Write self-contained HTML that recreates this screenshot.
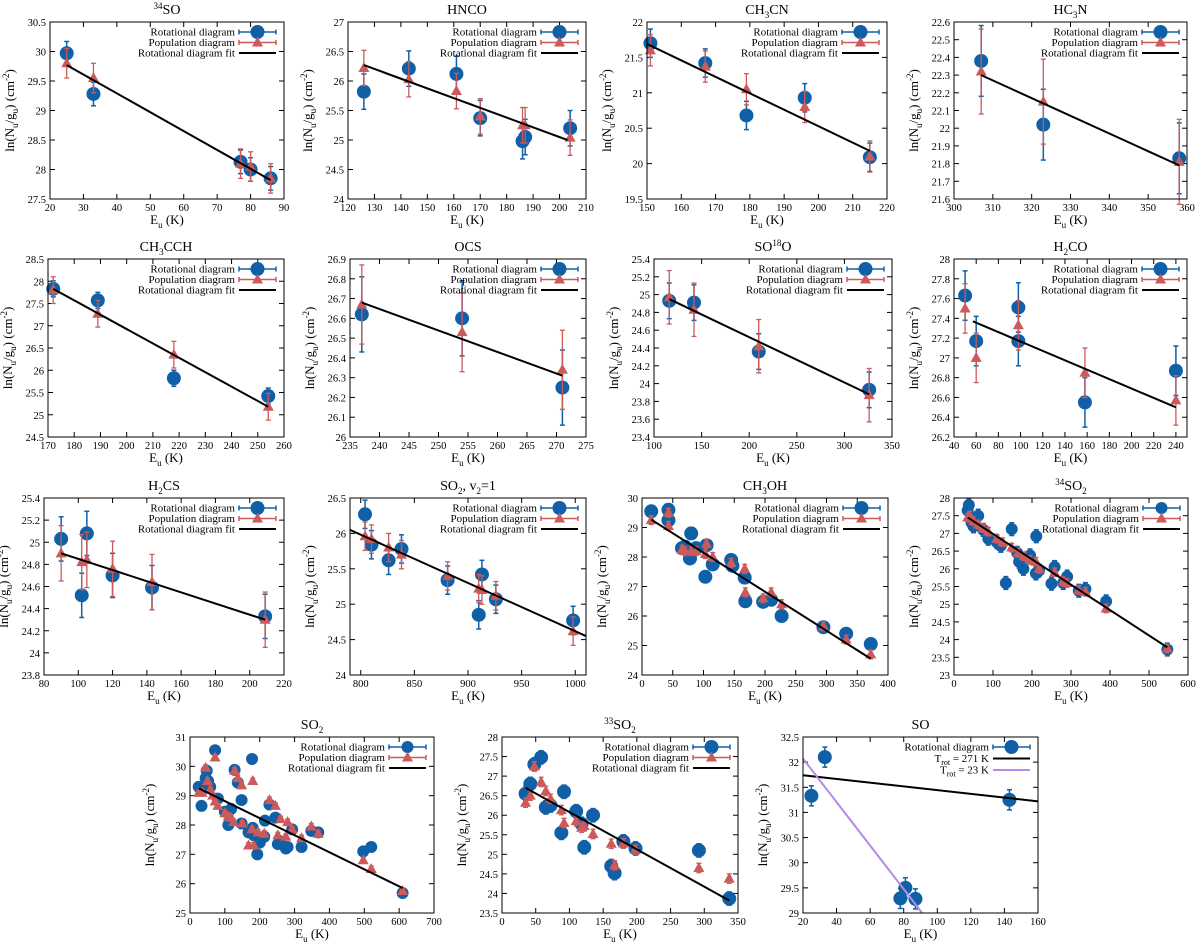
<!DOCTYPE html>
<html><head><meta charset="utf-8">
<style>
body{margin:0;background:#fff;}
svg{display:block;}
svg text{font-family:"Liberation Serif","DejaVu Serif",serif;}
</style></head>
<body>
<svg id="fig" width="1200" height="943" viewBox="0 0 1200 943" xmlns="http://www.w3.org/2000/svg" font-family="Liberation Serif, serif"></svg>
<script>
// ---------- DATA ----------
const p1_rotX=[25,33,77,80,86], p1_rotY=[29.97,29.28,28.13,28.0,27.85];
const p1_popX=[25,33,77,80,86], p1_popY=[29.8,29.55,28.1,28.05,27.85];
const p1_fitX=[25,86], p1_fitY=[29.77,27.82];

const p2_rotX=[126,143,161,170,186,187,204], p2_rotY=[25.82,26.21,26.12,25.37,24.98,25.05,25.2];
const p2_popX=[126,143,161,170,186,187,204], p2_popY=[26.22,26.03,25.83,25.4,25.25,25.25,25.04];
const p2_fitX=[126,203], p2_fitY=[26.27,25.0];

const p3_rotX=[151,167,179,196,215], p3_rotY=[21.7,21.42,20.68,20.93,20.09];
const p3_popX=[151,167,179,196,215], p3_popY=[21.6,21.37,21.05,20.8,20.1];
const p3_fitX=[150,215], p3_fitY=[21.69,20.18];

const p4_rotX=[307,323,358], p4_rotY=[22.38,22.02,21.83];
const p4_popX=[307,323,358], p4_popY=[22.32,22.15,21.81];
const p4_fitX=[307,358], p4_fitY=[22.3,21.79];

const p5_rotX=[172,189,218,254], p5_rotY=[27.83,27.57,25.82,25.42];
const p5_popX=[172,189,218,254], p5_popY=[27.8,27.27,26.35,25.18];
const p5_fitX=[172,254], p5_fitY=[27.83,25.18];

const p6_rotX=[237,254,271], p6_rotY=[26.62,26.6,26.25];
const p6_popX=[237,254,271], p6_popY=[26.67,26.53,26.34];
const p6_fitX=[237,271], p6_fitY=[26.68,26.31];

const p7_rotX=[116,142,210,326], p7_rotY=[24.93,24.91,24.36,23.93];
const p7_popX=[116,142,210,326], p7_popY=[24.97,24.83,24.42,23.87];
const p7_fitX=[116,326], p7_fitY=[24.95,23.88];

const p8_rotX=[50,60,98,98,158,240], p8_rotY=[27.63,27.17,27.51,27.17,26.55,26.87];
const p8_popX=[50,60,98,158,240], p8_popY=[27.5,27.0,27.33,26.85,26.57];
const p8_fitX=[57,240], p8_fitY=[27.37,26.5];

const p9_rotX=[90,102,105,120,143,209], p9_rotY=[25.03,24.52,25.08,24.7,24.59,24.33];
const p9_popX=[90,102,105,120,143,209], p9_popY=[24.9,24.82,24.84,24.76,24.64,24.3];
const p9_fitX=[90,209], p9_fitY=[24.9,24.3];

const p10_rotX=[804,810,826,838,881,910,913,926,998], p10_rotY=[26.27,25.84,25.62,25.78,25.34,24.85,25.42,25.07,24.77];
const p10_popX=[804,810,826,838,881,910,913,926,998], p10_popY=[25.96,25.92,25.8,25.7,25.4,25.22,25.2,25.12,24.62];
const p10_fitX=[790,1010], p10_fitY=[26.05,24.55];

const p11_rotX=[15,43,43,65,70,78,80,88,103,105,115,145,147,167,168,197,210,227,295,332,372];
const p11_rotY=[29.55,29.6,29.25,28.3,28.35,27.95,28.8,28.3,27.33,28.4,27.75,27.9,27.7,27.3,26.5,26.48,26.55,26.0,25.62,25.4,25.05];
const p11_popX=[15,43,43,65,70,80,88,103,105,115,145,167,168,197,210,227,295,332,372];
const p11_popY=[29.25,29.5,29.05,28.25,28.2,28.2,28.2,28.1,28.45,28.0,27.8,27.6,26.8,26.6,26.8,26.4,25.65,25.2,24.7];
const p11_fitX=[15,372], p11_fitY=[29.27,24.55];

const p12_rotX=[35,38,45,50,62,75,88,110,120,133,148,162,167,178,195,210,211,218,250,258,280,290,320,337,390,547];
const p12_rotY=[27.65,27.8,27.3,27.2,27.5,27.1,26.85,26.75,26.65,25.6,27.12,26.45,26.2,26.0,26.38,25.87,26.92,25.95,25.58,26.05,25.6,25.78,25.38,25.43,25.08,23.72];
const p12_popX=[35,40,50,62,75,88,110,125,148,165,180,195,210,218,258,280,290,320,337,390,547];
const p12_popY=[27.45,27.5,27.35,27.25,27.15,27.05,26.85,26.75,26.6,26.45,26.35,26.25,26.2,26.0,25.9,25.65,25.6,25.4,25.35,24.88,23.75];
const p12_fitX=[35,547], p12_fitY=[27.45,23.78];

const p13_rotX=[25,33,45,48,52,58,72,80,100,110,118,128,137,148,148,168,178,180,183,193,200,213,215,228,245,252,258,275,280,293,320,348,368,497,520,610];
const p13_rotY=[29.3,28.65,29.6,29.85,29.5,29.3,30.55,28.9,28.45,28.0,28.55,29.88,29.45,28.85,28.05,27.75,30.25,27.9,27.65,27.0,27.4,27.6,28.15,28.7,28.25,27.35,27.45,27.2,27.25,27.85,27.25,27.8,27.75,27.1,27.25,25.68];
const p13_popX=[25,35,45,50,58,65,72,72,80,100,110,118,125,128,137,148,150,168,178,180,183,195,213,228,245,252,260,275,280,293,320,348,368,497,520,610];
const p13_popY=[29.1,29.1,29.95,29.5,29.2,29.0,30.3,28.8,28.65,28.4,28.3,28.25,28.1,29.85,29.6,29.35,28.05,27.3,27.85,29.5,27.3,27.75,27.7,28.85,28.65,27.65,28.2,27.6,28.1,27.85,27.55,27.95,27.7,26.8,26.5,25.75];
const p13_fitX=[25,610], p13_fitY=[29.25,25.85];

const p14_rotX=[35,42,48,58,65,72,88,92,110,118,122,135,162,167,180,198,292,337];
const p14_rotY=[26.55,26.8,27.3,27.48,26.2,26.25,25.55,26.6,26.1,25.78,25.18,26.0,24.7,24.52,25.33,25.15,25.1,23.87];
const p14_popX=[35,42,48,58,65,72,88,92,110,118,122,135,162,167,180,198,292,337];
const p14_popY=[26.32,26.5,27.25,26.85,26.62,26.42,26.13,25.8,25.85,25.68,25.72,25.52,25.27,24.72,25.28,25.12,24.65,24.38];
const p14_fitX=[35,337], p14_fitY=[26.7,23.82];

const p15_rotX=[25,33,78,81,87,143], p15_rotY=[31.33,32.1,29.29,29.5,29.28,31.25];
const p15_fitX=[20,160], p15_fitY=[31.74,31.22];
const p15_fit2X=[20,91], p15_fit2Y=[32.07,29.0];

// ---------- RENDER ----------
const NS="http://www.w3.org/2000/svg";
const svg=document.getElementById('fig');
const BLUE="#1060a8", RED="#cc5a5a", PURPLE="#b58ae8";
function mk(tag,attrs,parent){const e=document.createElementNS(NS,tag);for(const k in attrs)e.setAttribute(k,attrs[k]);(parent||svg).appendChild(e);return e;}

const panels=[
 {id:'34so',title:'<tspan font-size="9" dy="-5">34</tspan><tspan dy="5">SO</tspan>',L:50,R:284,T:22,B:199,x0:20,x1:90,xs:10,y0:27.5,y1:30.5,ys:0.5,rx:p1_rotX,ry:p1_rotY,px:p1_popX,py:p1_popY,fx:p1_fitX,fy:p1_fitY,eR:0.2,eP:0.25,r:7},
 {id:'hnco',title:'HNCO',L:348,R:586,T:22,B:199,x0:120,x1:210,xs:10,y0:24,y1:27,ys:0.5,rx:p2_rotX,ry:p2_rotY,px:p2_popX,py:p2_popY,fx:p2_fitX,fy:p2_fitY,eR:0.3,eP:0.3,r:7},
 {id:'ch3cn',title:'CH<tspan font-size="9" dy="4">3</tspan><tspan dy="-4">CN</tspan>',L:647,R:887,T:22,B:199,x0:150,x1:220,xs:10,y0:19.5,y1:22,ys:0.5,rx:p3_rotX,ry:p3_rotY,px:p3_popX,py:p3_popY,fx:p3_fitX,fy:p3_fitY,eR:0.2,eP:0.22,r:7},
 {id:'hc3n',title:'HC<tspan font-size="9" dy="4">3</tspan><tspan dy="-4">N</tspan>',L:954,R:1187,T:22,B:199,x0:300,x1:360,xs:10,y0:21.6,y1:22.6,ys:0.1,rx:p4_rotX,ry:p4_rotY,px:p4_popX,py:p4_popY,fx:p4_fitX,fy:p4_fitY,eR:0.2,eP:0.24,r:7},
 {id:'ch3cch',title:'CH<tspan font-size="9" dy="4">3</tspan><tspan dy="-4">CCH</tspan>',L:48,R:284,T:259,B:437,x0:170,x1:260,xs:10,y0:24.5,y1:28.5,ys:0.5,rx:p5_rotX,ry:p5_rotY,px:p5_popX,py:p5_popY,fx:p5_fitX,fy:p5_fitY,eR:0.18,eP:0.3,r:7},
 {id:'ocs',title:'OCS',L:350,R:586,T:259,B:437,x0:235,x1:275,xs:5,y0:26,y1:26.9,ys:0.1,rx:p6_rotX,ry:p6_rotY,px:p6_popX,py:p6_popY,fx:p6_fitX,fy:p6_fitY,eR:0.19,eP:0.2,r:7},
 {id:'so18o',title:'SO<tspan font-size="9" dy="-5">18</tspan><tspan dy="5">O</tspan>',L:654,R:892,T:259,B:437,x0:100,x1:350,xs:50,y0:23.4,y1:25.4,ys:0.2,rx:p7_rotX,ry:p7_rotY,px:p7_popX,py:p7_popY,fx:p7_fitX,fy:p7_fitY,eR:0.2,eP:0.3,r:7},
 {id:'h2co',title:'H<tspan font-size="9" dy="4">2</tspan><tspan dy="-4">CO</tspan>',L:954,R:1187,T:259,B:437,x0:40,x1:250,xs:20,xt0:40,y0:26.2,y1:28,ys:0.2,rx:p8_rotX,ry:p8_rotY,px:p8_popX,py:p8_popY,fx:p8_fitX,fy:p8_fitY,eR:0.25,eP:0.25,r:7},
 {id:'h2cs',title:'H<tspan font-size="9" dy="4">2</tspan><tspan dy="-4">CS</tspan>',L:44,R:284,T:498,B:675,x0:80,x1:220,xs:20,y0:23.8,y1:25.4,ys:0.2,rx:p9_rotX,ry:p9_rotY,px:p9_popX,py:p9_popY,fx:p9_fitX,fy:p9_fitY,eR:0.2,eP:0.25,r:7},
 {id:'so2v2',title:'SO<tspan font-size="9" dy="4">2</tspan><tspan dy="-4">, v</tspan><tspan font-size="9" dy="4">2</tspan><tspan dy="-4">=1</tspan>',L:350,R:586,T:498,B:675,x0:790,x1:1010,xs:50,xt0:800,y0:24,y1:26.5,ys:0.5,rx:p10_rotX,ry:p10_rotY,px:p10_popX,py:p10_popY,fx:p10_fitX,fy:p10_fitY,eR:0.2,eP:0.2,r:7},
 {id:'ch3oh',title:'CH<tspan font-size="9" dy="4">3</tspan><tspan dy="-4">OH</tspan>',L:642,R:888,T:498,B:675,x0:0,x1:400,xs:50,y0:24,y1:30,ys:1,rx:p11_rotX,ry:p11_rotY,px:p11_popX,py:p11_popY,fx:p11_fitX,fy:p11_fitY,eR:0.15,eP:0.15,r:7},
 {id:'34so2',title:'<tspan font-size="9" dy="-5">34</tspan><tspan dy="5">SO</tspan><tspan font-size="9" dy="4">2</tspan>',L:954,R:1188,T:498,B:675,x0:0,x1:600,xs:100,y0:23,y1:28,ys:0.5,rx:p12_rotX,ry:p12_rotY,px:p12_popX,py:p12_popY,fx:p12_fitX,fy:p12_fitY,eR:0.18,eP:0.12,r:6},
 {id:'so2',title:'SO<tspan font-size="9" dy="4">2</tspan>',L:190,R:434,T:737,B:913,x0:0,x1:700,xs:100,y0:25,y1:31,ys:1,rx:p13_rotX,ry:p13_rotY,px:p13_popX,py:p13_popY,fx:p13_fitX,fy:p13_fitY,eR:0.15,eP:0.1,r:6},
 {id:'33so2',title:'<tspan font-size="9" dy="-5">33</tspan><tspan dy="5">SO</tspan><tspan font-size="9" dy="4">2</tspan>',L:502,R:738,T:737,B:913,x0:0,x1:350,xs:50,y0:23.5,y1:28,ys:0.5,rx:p14_rotX,ry:p14_rotY,px:p14_popX,py:p14_popY,fx:p14_fitX,fy:p14_fitY,eR:0.17,eP:0.12,r:7},
 {id:'so',title:'SO',L:803,R:1038,T:737,B:913,x0:20,x1:160,xs:20,y0:29,y1:32.5,ys:0.5,rx:p15_rotX,ry:p15_rotY,px:null,py:null,fx:p15_fitX,fy:p15_fitY,f2x:p15_fit2X,f2y:p15_fit2Y,eR:0.2,eP:0,r:7}
];

function fmt(v){return String(parseFloat(v.toFixed(3)));}

panels.forEach(p=>{
  const g=mk('g',{});
  
  
  const sx=v=>p.L+(v-p.x0)/(p.x1-p.x0)*(p.R-p.L);
  const sy=v=>p.B-(v-p.y0)/(p.y1-p.y0)*(p.B-p.T);
  const cx=(p.L+p.R)/2;
  const t=mk('text',{x:cx,y:p.T-8,'text-anchor':'middle','font-size':14},g);
  t.innerHTML=p.title;
  
  
  const tg=mk('g',{stroke:'#000','stroke-width':1},g);
  const xt0=p.xt0!==undefined?p.xt0:p.x0;
  for(let v=xt0;v<=p.x1+1e-9;v+=p.xs){
    const X=sx(v);
    mk('line',{x1:X,y1:p.B,x2:X,y2:p.B-5},tg);mk('line',{x1:X,y1:p.T,x2:X,y2:p.T+5},tg);
    const lb=mk('text',{x:X,y:p.B+12,'text-anchor':'middle','font-size':10.5},g);lb.textContent=fmt(v);
    
    
  }
  for(let v=p.y0;v<=p.y1+1e-9;v+=p.ys){
    const Y=sy(v);
    mk('line',{x1:p.L,y1:Y,x2:p.L+5,y2:Y},tg);mk('line',{x1:p.R,y1:Y,x2:p.R-5,y2:Y},tg);
    const lb=mk('text',{x:p.L-4,y:Y+4,'text-anchor':'end','font-size':10.5},g);lb.textContent=fmt(v);
    
    
  }
  const xl=mk('text',{x:cx,y:p.B+25,'text-anchor':'middle','font-size':13},g);
  xl.innerHTML='E<tspan font-size="9" dy="4">u</tspan><tspan dy="-4"> (K)</tspan>';
  
  
  const ly=(p.T+p.B)/2, lx=p.L-36;
  const yl=mk('text',{x:lx,y:ly,'text-anchor':'middle','font-size':13,transform:`rotate(-90 ${lx} ${ly})`},g);
  yl.innerHTML='ln(N<tspan font-size="9" dy="4">u</tspan><tspan dy="-4">/g</tspan><tspan font-size="9" dy="4">u</tspan><tspan dy="-4">) (cm</tspan><tspan font-size="9" dy="-5">-2</tspan><tspan dy="5">)</tspan>';
  
  
  const rg=mk('g',{},g);
  
  
  p.rx.forEach((x,i)=>{
    const X=sx(x),Y=sy(p.ry[i]),y1=sy(p.ry[i]+p.eR),y2=sy(p.ry[i]-p.eR);
    mk('line',{x1:X,y1:y1,x2:X,y2:y2,stroke:BLUE,'stroke-width':1.5},rg);
    mk('line',{x1:X-2.5,y1:y1,x2:X+2.5,y2:y1,stroke:BLUE,'stroke-width':1.5},rg);
    mk('line',{x1:X-2.5,y1:y2,x2:X+2.5,y2:y2,stroke:BLUE,'stroke-width':1.5},rg);
    const c=mk('circle',{cx:X,cy:Y,r:p.r,fill:BLUE},rg);
    
    
  });
  if(p.px){
    const pg=mk('g',{},g);
    
    
    p.px.forEach((x,i)=>{
      const X=sx(x),Y=sy(p.py[i]),y1=sy(p.py[i]+p.eP),y2=sy(p.py[i]-p.eP);
      mk('line',{x1:X,y1:y1,x2:X,y2:y2,stroke:RED,'stroke-width':1.3},pg);
      mk('line',{x1:X-2.5,y1:y1,x2:X+2.5,y2:y1,stroke:RED,'stroke-width':1.3},pg);
      mk('line',{x1:X-2.5,y1:y2,x2:X+2.5,y2:y2,stroke:RED,'stroke-width':1.3},pg);
      const tr=mk('polygon',{points:`${X},${Y-6} ${X-5.5},${Y+4} ${X+5.5},${Y+4}`,fill:RED},pg);
      
      
    });
  }
  const fl=mk('line',{x1:sx(p.fx[0]),y1:sy(p.fy[0]),x2:sx(p.fx[1]),y2:sy(p.fy[1]),stroke:'#000','stroke-width':2},g);
  
  
  if(p.f2x){
    const f2=mk('line',{x1:sx(p.f2x[0]),y1:sy(p.f2y[0]),x2:sx(p.f2x[1]),y2:sy(p.f2y[1]),stroke:PURPLE,'stroke-width':2},g);
    
    
  }
  const fr=mk('rect',{x:p.L,y:p.T,width:p.R-p.L,height:p.B-p.T,fill:'none',stroke:'#000','stroke-width':1},g);
  
  
  const lg=mk('g',{},g);
  
  
  const s0=p.R-45,s1=p.R-8,sm=(s0+s1)/2;
  const entries=p.id==='so'?
    [['Rotational diagram','rot'],['T<tspan font-size="8" dy="3">rot</tspan><tspan dy="-3"> = 271 K</tspan>','fit'],['T<tspan font-size="8" dy="3">rot</tspan><tspan dy="-3"> = 23 K</tspan>','fit2']]:
    [['Rotational diagram','rot'],['Population diagram','pop'],['Rotational diagram fit','fit']];
  entries.forEach((e,i)=>{
    const Y=p.T+10+i*(p.id==='so'?11.5:10.5);
    const tx=mk('text',{x:s0-4,y:Y+3.5,'text-anchor':'end','font-size':11},lg);tx.innerHTML=e[0];
    
    
    if(e[1]==='rot'){
      mk('line',{x1:s0,y1:Y,x2:s1,y2:Y,stroke:BLUE,'stroke-width':1.5},lg);
      mk('line',{x1:s0,y1:Y-2.5,x2:s0,y2:Y+2.5,stroke:BLUE,'stroke-width':1.5},lg);
      mk('line',{x1:s1,y1:Y-2.5,x2:s1,y2:Y+2.5,stroke:BLUE,'stroke-width':1.5},lg);
      mk('circle',{cx:sm,cy:Y,r:p.r,fill:BLUE},lg);
    }else if(e[1]==='pop'){
      mk('line',{x1:s0,y1:Y,x2:s1,y2:Y,stroke:RED,'stroke-width':1.5},lg);
      mk('line',{x1:s0,y1:Y-2.5,x2:s0,y2:Y+2.5,stroke:RED,'stroke-width':1.5},lg);
      mk('line',{x1:s1,y1:Y-2.5,x2:s1,y2:Y+2.5,stroke:RED,'stroke-width':1.5},lg);
      mk('polygon',{points:`${sm},${Y-6} ${sm-5.5},${Y+4} ${sm+5.5},${Y+4}`,fill:RED},lg);
    }else{
      mk('line',{x1:s0,y1:Y,x2:s1,y2:Y,stroke:e[1]==='fit2'?PURPLE:'#000','stroke-width':2},lg);
    }
  });
});
</script>
</body></html>
